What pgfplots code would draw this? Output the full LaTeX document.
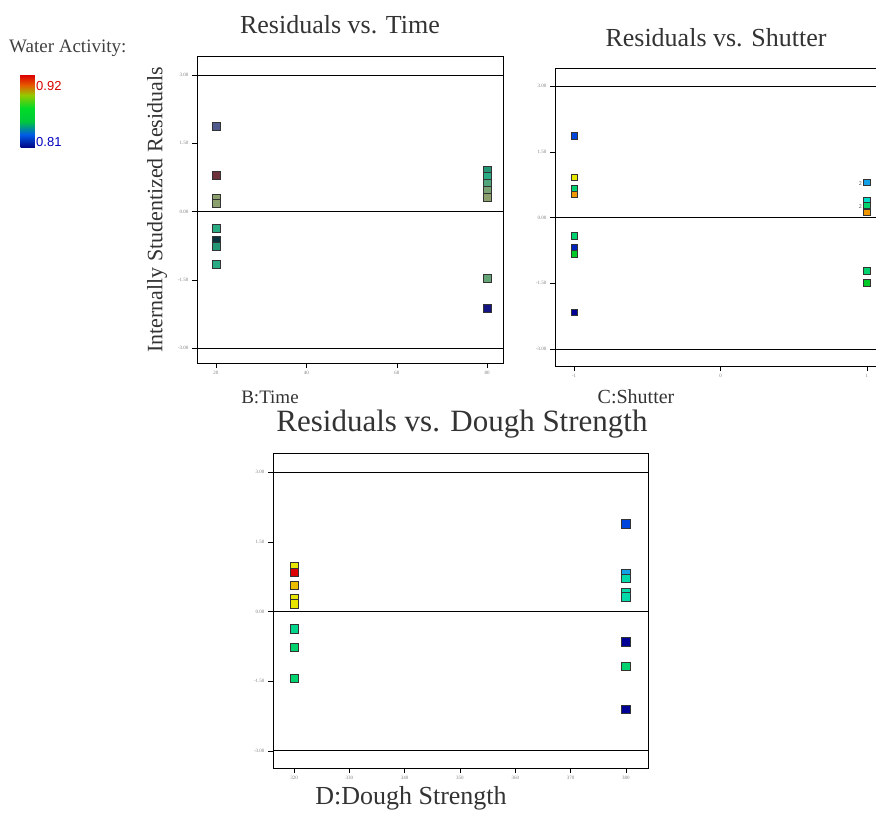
\documentclass[border=0pt]{standalone}
\usepackage{pgfplots}
\pgfplotsset{compat=1.18}
\usepackage{pgfplotstable}
\usepackage{fontspec}
\setmainfont{Liberation Serif}
\newfontfamily\arialf{Liberation Sans}
\usetikzlibrary{calc}

\pgfplotsset{
  colormap={wa}{rgb255(0cm)=(0,0,150) rgb255(1cm)=(0,70,220) rgb255(2.5cm)=(20,160,230)
    rgb255(3.5cm)=(0,220,200) rgb255(5cm)=(0,210,110) rgb255(6cm)=(0,200,40)
    rgb255(8.5cm)=(230,230,0) rgb255(9.5cm)=(240,150,0) rgb255(11cm)=(220,0,0)},
  colormap={wabar}{rgb255(0cm)=(0,0,130) rgb255(2cm)=(0,90,230) rgb255(4cm)=(0,200,60)
    rgb255(6cm)=(0,220,40) rgb255(8cm)=(150,200,0) rgb255(9.5cm)=(230,90,0) rgb255(11cm)=(220,0,0)},
  colormap={wadull}{rgb255(0cm)=(20,20,130) rgb255(1cm)=(80,90,140) rgb255(2cm)=(10,50,60)
    rgb255(5cm)=(40,170,130) rgb255(7.5cm)=(140,160,110) rgb255(11cm)=(110,50,60)},
  resid/.style={
    scale only axis,
    tick align=outside, major tick length=5pt,
    xtick pos=bottom, ytick pos=left,
    tick style={black, thin},
    axis line style={black, line width=0.8pt},
    ticklabel style={font=\fontsize{5}{6}\selectfont, text=black!50},
    yticklabel style={/pgf/number format/.cd, fixed, fixed zerofill, precision=2},
    /pgf/number format/assume math mode=true,
    ytick={-3,-1.5,0,1.5,3},
    point meta min=0.81, point meta max=0.92,
  },
  resmark/.style={only marks, scatter, mark=square*, point meta=explicit,
    scatter/use mapped color={draw=black!80, fill=mapped color}},
}

\pgfplotstableread{
x y c
20 1.87 0.82
20 0.81 0.92
20 0.29 0.885
20 0.18 0.885
20 -0.37 0.86
20 -0.64 0.83
20 -0.77 0.855
20 -1.16 0.86
80 0.92 0.855
80 0.77 0.86
80 0.62 0.87
80 0.46 0.88
80 0.32 0.885
80 -1.47 0.875
80 -2.13 0.81
}\timedata

\pgfplotstableread{
x y c
-1 1.86 0.82
-1 0.92 0.895
-1 0.67 0.86
-1 0.53 0.905
-1 -0.41 0.86
-1 -0.69 0.815
-1 -0.83 0.87
-1 -2.16 0.81
1 0.80 0.835
1 0.39 0.845
1 0.28 0.86
1 0.12 0.905
1 -1.22 0.86
1 -1.49 0.87
}\shutterdata

\pgfplotstableread{
x y c
320 0.97 0.895
320 0.84 0.92
320 0.56 0.90
320 0.28 0.895
320 0.17 0.895
320 -0.37 0.855
320 -0.77 0.86
320 -1.44 0.86
380 1.89 0.82
380 0.82 0.835
380 0.71 0.85
380 0.41 0.85
380 0.32 0.85
380 -0.65 0.81
380 -1.18 0.86
380 -2.11 0.81
}\doughdata

\begin{document}
\begin{tikzpicture}
\useasboundingbox (0pt,0pt) rectangle (876pt,-814pt);

% ---------- Panel 1: Time
\begin{axis}[resid, name=ax1,
  at={(197pt,-363pt)}, anchor=south west,
  width=306pt, height=307pt,
  xmin=15.8, xmax=83.5, ymin=-3.33, ymax=3.42,
  xtick={20,40,60,80},
  colormap name=wadull,
  colorbar,
  colorbar style={
    at={($(parent axis.north west)+(-185pt,-19pt)$)}, anchor=north west,
    width=18pt, height=73pt, ytick=\empty, xtick=\empty,
    axis line style={draw=none}, colormap name=wabar},
]
\addplot[black, line width=0.8pt, forget plot] coordinates {(15.8,3) (83.5,3)};
\addplot[black, line width=0.8pt, forget plot] coordinates {(15.8,0) (83.5,0)};
\addplot[black, line width=0.8pt, forget plot] coordinates {(15.8,-3) (83.5,-3)};
\addplot[resmark, mark size=4pt] table[x=x, y=y, meta=c] {\timedata};
\end{axis}

% ---------- Panel 2: Shutter
\begin{axis}[resid, name=ax2,
  at={(555pt,-366pt)}, anchor=south west,
  width=331pt, height=298pt,
  xmin=-1.13, xmax=1.13, ymin=-3.39, ymax=3.41,
  xtick={-1,0,1}, xticklabel style={/pgf/number format/.cd, fixed, precision=0},
  colormap name=wa,
]
\addplot[black, line width=0.8pt, forget plot] coordinates {(-1.13,3) (1.13,3)};
\addplot[black, line width=0.8pt, forget plot] coordinates {(-1.13,0) (1.13,0)};
\addplot[black, line width=0.8pt, forget plot] coordinates {(-1.13,-3) (1.13,-3)};
\addplot[resmark, mark size=3.3pt] table[x=x, y=y, meta=c] {\shutterdata};
\node[font=\fontsize{6}{6}\selectfont, text=black!70] at (axis cs:0.955,0.77) {2};
\node[font=\fontsize{6}{6}\selectfont, text=black!70] at (axis cs:0.955,0.25) {2};
\end{axis}

% ---------- Panel 3: Dough Strength
\begin{axis}[resid, name=ax3,
  at={(273pt,-768pt)}, anchor=south west,
  width=375pt, height=315pt,
  xmin=316.2, xmax=384, ymin=-3.37, ymax=3.41,
  xtick={320,330,340,350,360,370,380},
  colormap name=wa,
]
\addplot[black, line width=0.8pt, forget plot] coordinates {(316.2,3) (384,3)};
\addplot[black, line width=0.8pt, forget plot] coordinates {(316.2,0) (384,0)};
\addplot[black, line width=0.8pt, forget plot] coordinates {(316.2,-3) (384,-3)};
\addplot[resmark, mark size=4.2pt] table[x=x, y=y, meta=c] {\doughdata};
\end{axis}

% ---------- Titles and labels
\node[font=\fontsize{26}{28}\selectfont, text=black!80] at (340pt,-25pt) {Residuals vs. Time};
\node[font=\fontsize{26}{28}\selectfont, text=black!80] at (716pt,-38pt) {Residuals vs. Shutter};
\node[font=\fontsize{31}{33}\selectfont, text=black!80] at (462pt,-424pt) {Residuals vs. Dough Strength};
\node[font=\fontsize{19}{21}\selectfont, text=black!80] at (270pt,-397pt) {B:Time};
\node[font=\fontsize{20}{22}\selectfont, text=black!80] at (636pt,-397pt) {C:Shutter};
\node[font=\fontsize{26}{28}\selectfont, text=black!80] at (411pt,-798pt) {D:Dough Strength};
\node[font=\fontsize{22}{24}\selectfont, text=black!80, rotate=90] at (157pt,-210pt) {Internally Studentized Residuals};
\node[font=\fontsize{19}{21}\selectfont, text=black!75, anchor=west, inner sep=0pt] at (9pt,-48pt) {Water Activity:};
\node[font=\arialf\fontsize{13}{14}\selectfont, text=red!85!black, anchor=west, inner sep=0pt] at (36pt,-86pt) {0.92};
\node[font=\arialf\fontsize{13}{14}\selectfont, text=blue!75!black, anchor=west, inner sep=0pt] at (36pt,-142pt) {0.81};
\end{tikzpicture}
\end{document}
